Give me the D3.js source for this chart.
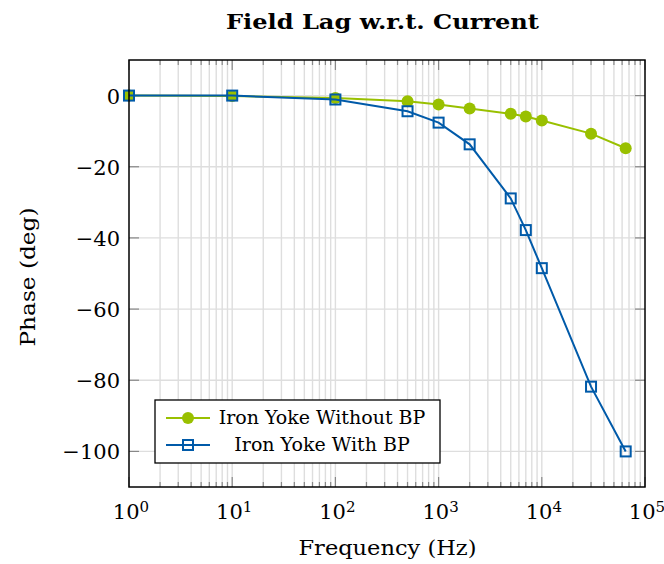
<!DOCTYPE html>
<html><head><meta charset="utf-8">
<script src="https://cdn.jsdelivr.net/npm/d3@7"></script>
<style>body{margin:0;background:#fff;} svg{display:block;}</style>
</head><body>
<script>
const freqs = [1, 10, 100, 500, 1000, 2000, 5000, 7000, 10000, 30000, 65000];
const withoutBP = [0, -0.1, -0.7, -1.6, -2.5, -3.6, -5.1, -5.9, -7.0, -10.7, -14.8];
const withBP = [0, 0, -1.1, -4.4, -7.6, -13.7, -28.9, -37.8, -48.5, -81.8, -100];
const seriesNames = ["Iron Yoke Without BP", "Iron Yoke With BP"];
const xTickExps = [0, 1, 2, 3, 4, 5];
const yTicks = [0, -20, -40, -60, -80, -100];
const title = "Field Lag w.r.t. Current";
const xLabel = "Frequency (Hz)";
const yLabel = "Phase (deg)";

const W = 664, H = 564;
const L = 129, R = 645, T = 60, B = 487;
const green = "#99C000", blue = "#005AA9";
const font = "'DejaVu Serif', serif";

const svg = d3.select("body").append("svg").attr("width", W).attr("height", H);
const x = d3.scaleLog().domain([1, 1e5]).range([L, R]);
const y = d3.scaleLinear().domain([10, -110]).range([T, B]);

// grid
const minor = [];
for (let e = 0; e < 5; e++) for (let k = 2; k <= 9; k++) minor.push(k * Math.pow(10, e));
const major = xTickExps.map(e => Math.pow(10, e));
const g = svg.append("g");
g.selectAll(".vg").data(minor.concat(major.slice(1, -1))).enter().append("line")
  .attr("x1", d => x(d)).attr("x2", d => x(d)).attr("y1", T).attr("y2", B)
  .attr("stroke", "#dedede").attr("stroke-width", 1.4);
g.selectAll(".hg").data(yTicks).enter().append("line")
  .attr("x1", L).attr("x2", R).attr("y1", d => y(d)).attr("y2", d => y(d))
  .attr("stroke", "#dedede").attr("stroke-width", 1.4);

// ticks (inside, all sides)
const tc = "#888888";
const tk = svg.append("g").attr("stroke", tc).attr("stroke-width", 1.2);
minor.forEach(d => {
  tk.append("line").attr("x1", x(d)).attr("x2", x(d)).attr("y1", B).attr("y2", B - 5);
  tk.append("line").attr("x1", x(d)).attr("x2", x(d)).attr("y1", T).attr("y2", T + 5);
});
major.forEach(d => {
  tk.append("line").attr("x1", x(d)).attr("x2", x(d)).attr("y1", B).attr("y2", B - 10);
  tk.append("line").attr("x1", x(d)).attr("x2", x(d)).attr("y1", T).attr("y2", T + 10);
});
yTicks.forEach(d => {
  tk.append("line").attr("x1", L).attr("x2", L + 10).attr("y1", y(d)).attr("y2", y(d));
  tk.append("line").attr("x1", R).attr("x2", R - 10).attr("y1", y(d)).attr("y2", y(d));
});

// series
const data1 = freqs.map((f, i) => [f, withoutBP[i]]);
const data2 = freqs.map((f, i) => [f, withBP[i]]);
const line = d3.line().x(d => x(d[0])).y(d => y(d[1]));
svg.append("path").datum(data1).attr("d", line).attr("fill", "none").attr("stroke", green).attr("stroke-width", 2);
svg.selectAll(".c").data(data1).enter().append("circle")
  .attr("cx", d => x(d[0])).attr("cy", d => y(d[1])).attr("r", 6).attr("fill", green);
svg.append("path").datum(data2).attr("d", line).attr("fill", "none").attr("stroke", blue).attr("stroke-width", 2);
svg.selectAll(".s").data(data2).enter().append("rect")
  .attr("x", d => x(d[0]) - 5).attr("y", d => y(d[1]) - 5).attr("width", 10).attr("height", 10)
  .attr("fill", "none").attr("stroke", blue).attr("stroke-width", 2);

// frame
svg.append("rect").attr("x", L).attr("y", T).attr("width", R - L).attr("height", B - T)
  .attr("fill", "none").attr("stroke", "#000").attr("stroke-width", 1.5);

// tick labels
svg.selectAll(".yl").data(yTicks).enter().append("text")
  .attr("x", L - 9).attr("y", d => y(d) + 8).attr("text-anchor", "end")
  .attr("font-family", font).attr("font-size", 21)
  .text(d => d < 0 ? "\u2212" + Math.abs(d) : d);
const xl = svg.selectAll(".xl").data(xTickExps).enter().append("text")
  .attr("x", d => x(Math.pow(10, d)) + 2).attr("y", 519).attr("text-anchor", "middle")
  .attr("font-family", font).attr("font-size", 21);
xl.append("tspan").text("10");
xl.append("tspan").attr("dy", -7).attr("font-size", 15).text(d => d);

// axis labels
svg.append("text").attr("x", 387.5).attr("y", 555).attr("text-anchor", "middle")
  .attr("font-family", font).attr("font-size", 21)
  .attr("textLength", 178).attr("lengthAdjust", "spacingAndGlyphs").text(xLabel);
svg.append("text").attr("transform", `translate(35,277) rotate(-90)`)
  .attr("text-anchor", "middle").attr("font-family", font).attr("font-size", 21)
  .attr("textLength", 139).attr("lengthAdjust", "spacingAndGlyphs").text(yLabel);
svg.append("text").attr("x", 382.5).attr("y", 29).attr("text-anchor", "middle")
  .attr("font-family", font).attr("font-size", 21).attr("font-weight", "bold")
  .attr("textLength", 313).attr("lengthAdjust", "spacingAndGlyphs").text(title);

// legend
const lg = svg.append("g");
lg.append("rect").attr("x", 155).attr("y", 400).attr("width", 285).attr("height", 63)
  .attr("fill", "#fff").attr("stroke", "#000").attr("stroke-width", 1.3);
const rows = [418, 445];
[green, blue].forEach((c, i) => {
  lg.append("line").attr("x1", 166).attr("x2", 210).attr("y1", rows[i]).attr("y2", rows[i])
    .attr("stroke", c).attr("stroke-width", 2);
  if (i === 0) lg.append("circle").attr("cx", 188).attr("cy", rows[i]).attr("r", 6).attr("fill", c);
  else lg.append("rect").attr("x", 183).attr("y", rows[i] - 5).attr("width", 10).attr("height", 10)
    .attr("fill", "none").attr("stroke", c).attr("stroke-width", 2);
  lg.append("text").attr("x", 322).attr("y", rows[i] + 6).attr("text-anchor", "middle")
    .attr("font-family", font).attr("font-size", 19).text(seriesNames[i]);
});
</script>
</body></html>
